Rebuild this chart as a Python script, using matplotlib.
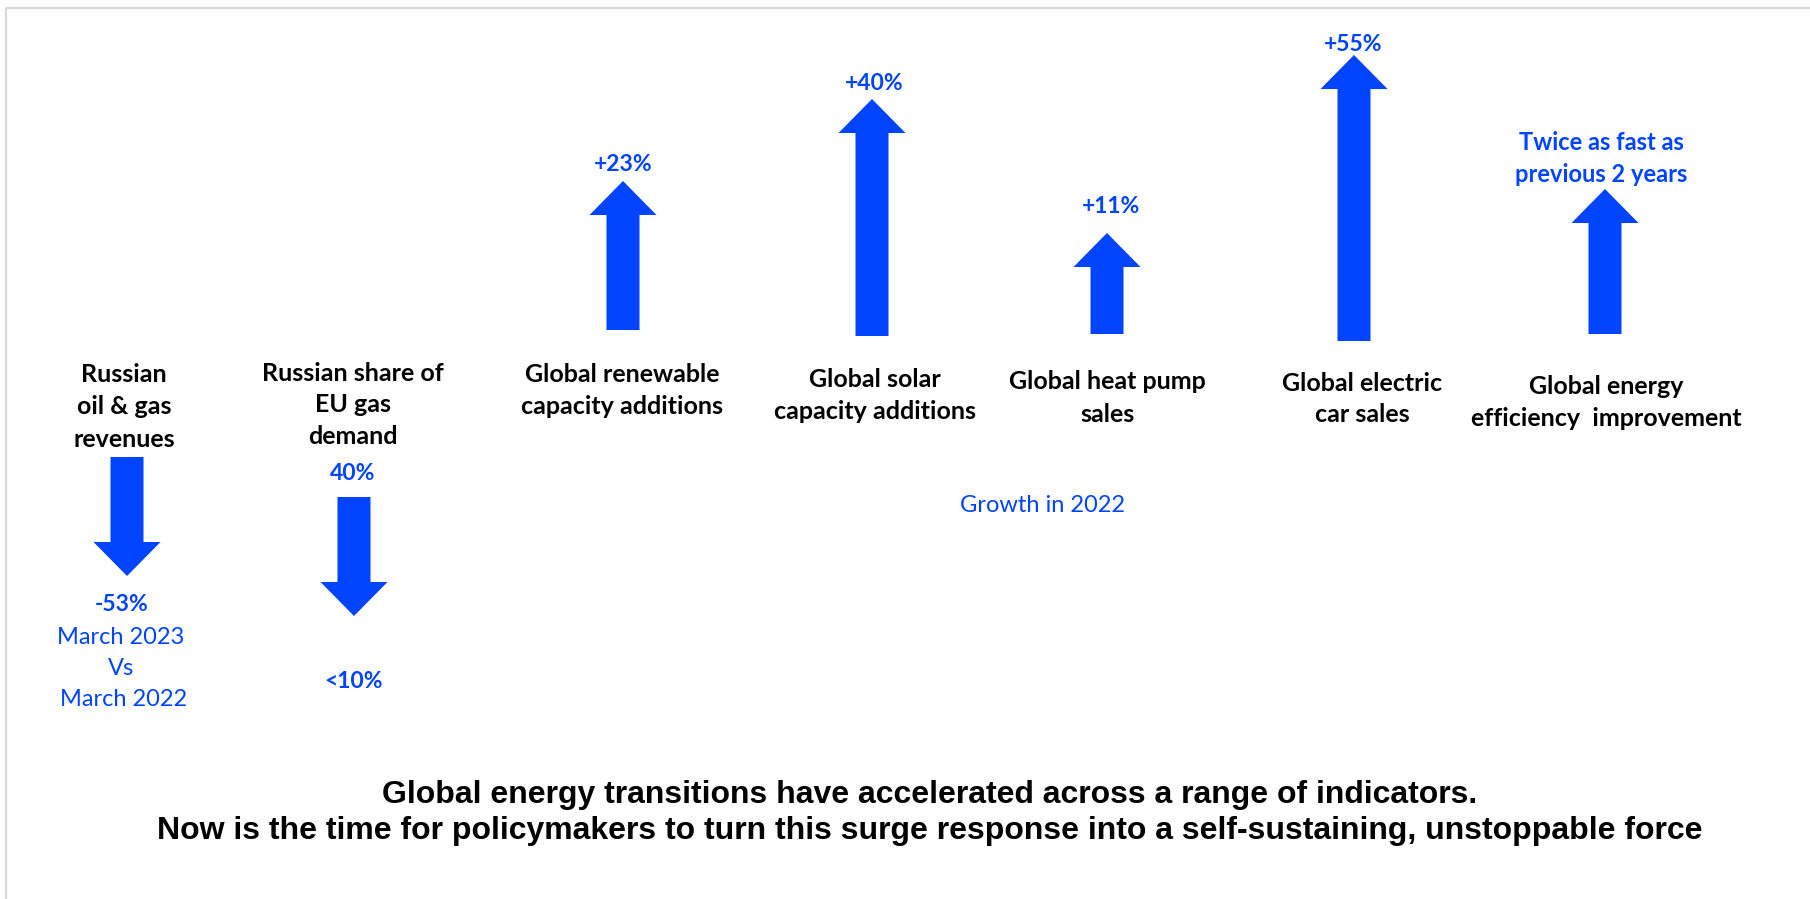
import matplotlib
matplotlib.use("Agg")
import matplotlib.pyplot as plt

# ---- data -------------------------------------------------------------
indicators = [
    "Russian\noil & gas\nrevenues",
    "Russian share of\nEU gas\ndemand",
    "Global renewable\ncapacity additions",
    "Global solar\ncapacity additions",
    "Global heat pump\nsales",
    "Global electric\ncar sales",
    "Global energy\nefficiency  improvement",
]
direction = ["down", "down", "up", "up", "up", "up", "up"]
change_labels = ["-53%", "<10%", "+23%", "+40%", "+11%", "+55%",
                 "Twice as fast as\nprevious 2 years"]
# arrow magnitudes (drawing units)
arrow_length = [119, 119, 149, 237, 101, 286, 145]

start_label = "40%"
period_note = "March 2023\nVs\n March 2022"
growth_note = "Growth in 2022"
headline = ("Global energy transitions have accelerated across a range of indicators.\n"
            "Now is the time for policymakers to turn this surge response into a "
            "self-sustaining, unstoppable force")

# ---- layout -----------------------------------------------------------
BLUE = "#0044FF"
W, H = 1810, 899
x_pos = [127, 354, 623, 872, 1107, 1354, 1605]
base_y = [457, 497, 330, 336, 334, 341, 334]
name_xy = [(124, 373, 32.5), (353, 372, 31.5), (622, 373, 32), (875, 378, 32),
           (1107, 380, 33), (1362, 382, 31), (1606, 385, 31.5)]
change_xy = [(122, 603), (353, 680), (623, 163), (874, 82), (1111, 205),
             (1353, 43), (1601, 142)]
SHAFT, HEAD_W, HEAD_L = 33, 67, 34

LABEL_FONT = "Lato"
FOOT_FONT = "Liberation Sans"
NAME_SIZE, VALUE_SIZE, NOTE_SIZE = 18, 16.5, 17

fig = plt.figure(figsize=(W / 100, H / 100), dpi=100)
ax = fig.add_axes([0, 0, 1, 1])
ax.set_xlim(0, W)
ax.set_ylim(H, 0)
ax.axis("off")


def stack(x, y, text, gap, size, **kw):
    """Write centred lines whose cap-height middles sit at y, y+gap, ..."""
    shift = 0.36 * size / 0.72
    for k, line in enumerate(text.split("\n")):
        ax.text(x, y + k * gap + shift, line, ha="center", va="baseline",
                fontsize=size, **kw)


# light frame on the top and left edges
ax.plot([5.5, 5.5], [7.5, H], color="#D9D9D9", lw=1.6, solid_capstyle="butt")
ax.plot([5.5, W], [7.5, 7.5], color="#D9D9D9", lw=1.6, solid_capstyle="butt")

for i, (name, d, lab, ln) in enumerate(zip(indicators, direction,
                                           change_labels, arrow_length)):
    x, y0 = x_pos[i], base_y[i]
    dy = ln if d == "down" else -ln
    ax.arrow(x, y0, 0, dy, width=SHAFT, head_width=HEAD_W, head_length=HEAD_L,
             length_includes_head=True, color=BLUE, lw=0)
    nx, ny, gap = name_xy[i]
    stack(nx, ny, name, gap, NAME_SIZE, fontweight="bold", family=LABEL_FONT,
          color="black")
    cx, cy = change_xy[i]
    size = NOTE_SIZE if "\n" in lab else VALUE_SIZE
    stack(cx, cy, lab, 31, size, fontweight="bold", family=LABEL_FONT,
          color=BLUE)

# context for the falling indicators
stack(121, 635, period_note, 31.5, NOTE_SIZE, family=LABEL_FONT, color=BLUE)
stack(353, 472, start_label, 31, VALUE_SIZE, fontweight="bold",
      family=LABEL_FONT, color=BLUE)

stack(1042, 504, growth_note, 31, NOTE_SIZE, family=LABEL_FONT, color=BLUE)

stack(930, 791, headline, 37, 23, fontweight="bold", family=FOOT_FONT,
      color="black")

fig.savefig("out.png", dpi=100, facecolor="white")
